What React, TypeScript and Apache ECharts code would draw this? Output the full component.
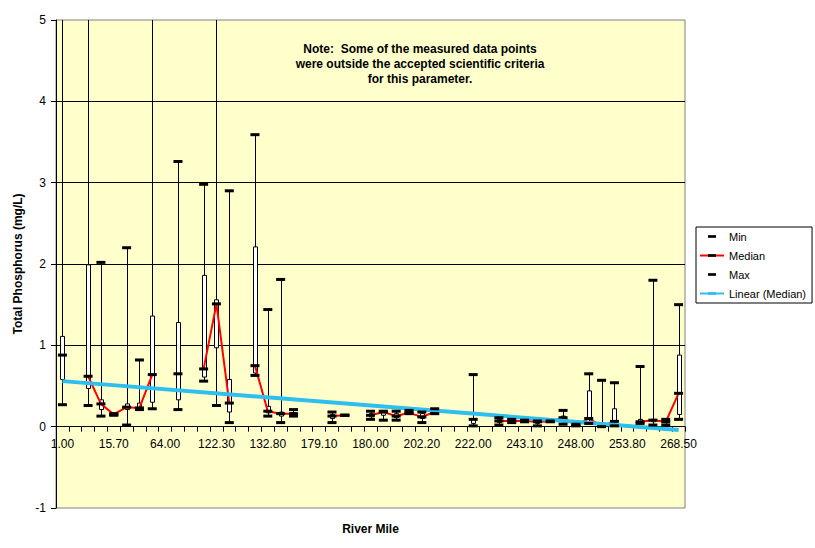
import React, { useEffect, useRef } from 'react';
import * as echarts from 'echarts';

// River mile categories (every 4th one is labelled on the axis)
const riverMiles = [
  '1.00', '5.30', '8.10', '12.40', '15.70', '22.50', '36.80', '49.20', '64.00', '75.60',
  '98.40', '111.90', '122.30', '126.10', '128.70', '130.50', '132.80', '141.20', '152.60', '167.40',
  '179.10', '179.40', '179.70', '179.90', '180.00', '186.50', '193.30', '198.00', '202.20', '207.40',
  '212.80', '217.10', '222.00', '229.60', '236.20', '240.50', '243.10', '244.80', '246.00', '247.20',
  '248.00', '249.60', '251.30', '252.70', '253.80', '258.90', '262.40', '265.70', '268.50',
];

const minVals = [
  0.27, null, 0.26, 0.13, 0.14, 0.02, 0.21, 0.22, null, 0.21,
  null, 0.56, 0.26, 0.05, null, 0.63, 0.13, 0.05, 0.13, null,
  null, 0.05, 0.14, null, 0.09, 0.08, 0.08, 0.16, 0.05, 0.16,
  null, null, 0.01, null, 0.02, 0.05, 0.06, 0.01, 0.06, 0.03,
  0.01, 0.04, 0.0, 0.01, null, 0.04, 0.02, 0.02, 0.09,
];

const boxLow = [
  0.58, null, 0.47, 0.21, 0.14, 0.21, 0.23, 0.30, null, 0.33,
  null, 0.61, 0.97, 0.18, null, 0.66, 0.17, 0.13, 0.15, null,
  null, 0.10, 0.14, null, 0.12, 0.14, 0.11, 0.17, 0.10, 0.17,
  null, null, 0.04, null, 0.05, 0.06, 0.07, 0.04, 0.065, 0.08,
  0.01, 0.09, 0.01, 0.06, null, 0.05, 0.06, 0.05, 0.15,
];

const medianVals = [
  0.88, null, 0.62, 0.28, 0.15, 0.24, 0.23, 0.64, null, 0.65,
  null, 0.71, 1.51, 0.29, null, 0.75, 0.19, 0.16, 0.16, null,
  null, 0.13, 0.14, null, 0.14, 0.18, 0.13, 0.17, 0.12, 0.18,
  null, null, 0.09, null, 0.07, 0.07, 0.07, 0.06, 0.065, 0.11,
  0.02, 0.10, 0.01, 0.065, null, 0.06, 0.08, 0.06, 0.41,
];

const boxHigh = [
  1.11, null, 1.99, 0.33, 0.16, 0.28, 0.29, 1.36, null, 1.28,
  null, 1.86, 1.56, 0.58, null, 2.21, 0.25, 0.18, 0.17, null,
  null, 0.15, 0.14, null, 0.16, 0.19, 0.16, 0.19, 0.16, 0.20,
  null, null, 0.10, null, 0.09, 0.08, 0.07, 0.07, 0.07, 0.13,
  0.03, 0.44, 0.02, 0.22, null, 0.09, 0.09, 0.08, 0.88,
];

const maxVals = [
  6.8, null, 7.5, 2.02, 0.16, 2.20, 0.82, 6.2, null, 3.26,
  null, 2.98, 9.1, 2.90, null, 3.59, 1.44, 1.81, 0.21, null,
  null, 0.18, 0.14, null, 0.19, 0.19, 0.19, 0.20, 0.18, 0.22,
  null, null, 0.64, null, 0.11, 0.09, 0.08, 0.07, 0.07, 0.20,
  0.03, 0.65, 0.57, 0.54, null, 0.74, 1.80, 0.09, 1.50,
];

// Linear (Median) trend line, read at the first and last category
const trendEnds = [0.56, -0.04];

const yMin = -1;
const yMax = 5;
const yStep = 1;

const noteLines = [
  'Note:  Some of the measured data points',
  'were outside the accepted scientific criteria',
  'for this parameter.',
];

const DASH = 'path://M0,0M9,9M0,3h9v3h-9z';
const FONT = 'Arial, "Liberation Sans", sans-serif';

const GRID_TOP = 20;
const GRID_BOTTOM = 40;
const CHART_H = 548;

export default function App() {
  const ref = useRef<HTMLDivElement>(null);

  useEffect(() => {
    if (!ref.current) return;
    const chart = echarts.init(ref.current, undefined, { renderer: 'svg' });

    const boxData: any[] = [];
    riverMiles.forEach((_, i) => {
      if (minVals[i] != null) {
        boxData.push([i, minVals[i], maxVals[i], boxLow[i], boxHigh[i]]);
      }
    });

    const trendData = riverMiles.map((_, i) =>
      i === 0 ? trendEnds[0] : i === riverMiles.length - 1 ? trendEnds[1] : null
    );

    // place the category axis on the value 0 line
    const gridH = CHART_H - GRID_TOP - GRID_BOTTOM;
    const zeroOffset = -(gridH / (yMax - yMin)) * (0 - yMin);

    const option: any = {
      animation: false,
      backgroundColor: '#ffffff',
      textStyle: { fontFamily: FONT },
      grid: {
        left: 56,
        right: 130,
        top: GRID_TOP,
        bottom: GRID_BOTTOM,
        containLabel: false,
        outerBoundsMode: 'none',
        show: true,
        backgroundColor: '#FFFFCC',
        borderColor: '#808080',
        borderWidth: 1,
      },
      xAxis: {
        type: 'category',
        data: riverMiles,
        boundaryGap: true,
        offset: zeroOffset,
        name: 'River Mile',
        nameLocation: 'middle',
        nameGap: 96,
        nameTextStyle: { fontSize: 12, fontWeight: 'bold', color: '#000', fontFamily: FONT },
        axisLine: { onZero: false, lineStyle: { color: '#000', width: 1 } },
        axisTick: { show: true, interval: 0, length: 5, lineStyle: { color: '#000' } },
        axisLabel: { interval: 3, fontSize: 12, color: '#000', margin: 11, fontFamily: FONT },
        splitLine: { show: false },
      },
      yAxis: {
        type: 'value',
        min: yMin,
        max: yMax,
        interval: yStep,
        name: 'Total Phosphorus (mg/L)',
        nameLocation: 'middle',
        nameGap: 27,
        nameTextStyle: { fontSize: 12, fontWeight: 'bold', color: '#000', fontFamily: FONT },
        axisLine: { show: true, onZero: false, lineStyle: { color: '#000', width: 1 } },
        axisTick: { show: true, length: 5, lineStyle: { color: '#000' } },
        axisLabel: { fontSize: 12, color: '#000', margin: 10, fontFamily: FONT },
        splitLine: {
          show: true,
          showMinLine: false,
          showMaxLine: false,
          lineStyle: { color: '#000', width: 1 },
        },
      },
      legend: {
        data: ['Min', 'Median', 'Max', 'Linear (Median)'],
        orient: 'vertical',
        left: 696,
        top: 227,
        padding: [4, 6, 4, 3],
        itemWidth: 24,
        itemHeight: 10,
        itemGap: 8,
        backgroundColor: '#ffffff',
        borderColor: '#000000',
        borderWidth: 1,
        borderRadius: 0,
        selectedMode: false,
        textStyle: { fontSize: 11, color: '#000', fontFamily: FONT },
      },
      graphic: [
        {
          type: 'text',
          x: 420,
          y: 41,
          style: {
            text: noteLines.join('\n'),
            fontSize: 12,
            fontWeight: 'bold',
            fontFamily: FONT,
            fill: '#000',
            align: 'center',
            verticalAlign: 'top',
            lineHeight: 15,
          },
        },
      ],
      series: [
        {
          type: 'custom',
          name: 'Range',
          data: boxData,
          encode: { x: 0, y: [1, 2, 3, 4] },
          z: 1,
          renderItem: (params: any, api: any) => {
            const i = api.value(0);
            const pMin = api.coord([i, api.value(1)]);
            const pMax = api.coord([i, api.value(2)]);
            const pLo = api.coord([i, api.value(3)]);
            const pHi = api.coord([i, api.value(4)]);
            const top = params.coordSys.y;
            const x = Math.round(pMin[0]) + 0.5;
            const yTop = Math.max(pMax[1], top);
            const bw = 4;
            return {
              type: 'group',
              children: [
                {
                  type: 'line',
                  shape: { x1: x, y1: pMin[1], x2: x, y2: yTop },
                  style: { stroke: '#000', lineWidth: 1 },
                },
                {
                  type: 'rect',
                  shape: {
                    x: x - bw / 2,
                    y: pHi[1],
                    width: bw,
                    height: Math.max(pLo[1] - pHi[1], 0),
                  },
                  style: { fill: '#ffffff', stroke: '#000', lineWidth: 1 },
                },
              ],
            };
          },
        },
        {
          type: 'line',
          name: 'Median',
          data: medianVals,
          connectNulls: false,
          showSymbol: true,
          showAllSymbol: true,
          symbol: DASH,
          symbolSize: 9,
          lineStyle: { color: '#FF0000', width: 2 },
          itemStyle: { color: '#000000', borderWidth: 0 },
          z: 2,
        },
        {
          type: 'line',
          name: 'Linear (Median)',
          data: trendData,
          connectNulls: true,
          showSymbol: false,
          symbol: DASH,
          lineStyle: { color: '#2EBFEF', width: 4 },
          itemStyle: { color: '#2EBFEF', borderWidth: 0 },
          z: 3,
        },
        {
          type: 'line',
          name: 'Min',
          data: minVals,
          connectNulls: false,
          showSymbol: true,
          showAllSymbol: true,
          symbol: DASH,
          symbolSize: 9,
          lineStyle: { width: 0, opacity: 0 },
          itemStyle: { color: '#000000', borderWidth: 0 },
          z: 4,
        },
        {
          type: 'line',
          name: 'Max',
          data: maxVals.map((v) => (v != null && v > yMax ? null : v)),
          connectNulls: false,
          showSymbol: true,
          showAllSymbol: true,
          symbol: DASH,
          symbolSize: 9,
          lineStyle: { width: 0, opacity: 0 },
          itemStyle: { color: '#000000', borderWidth: 0 },
          z: 4,
        },
      ],
    };

    chart.setOption(option);
    return () => chart.dispose();
  }, []);

  return (
    <div
      ref={ref}
      style={{ position: 'fixed', left: 0, top: 0, width: 815, height: 548, background: '#fff' }}
    />
  );
}
